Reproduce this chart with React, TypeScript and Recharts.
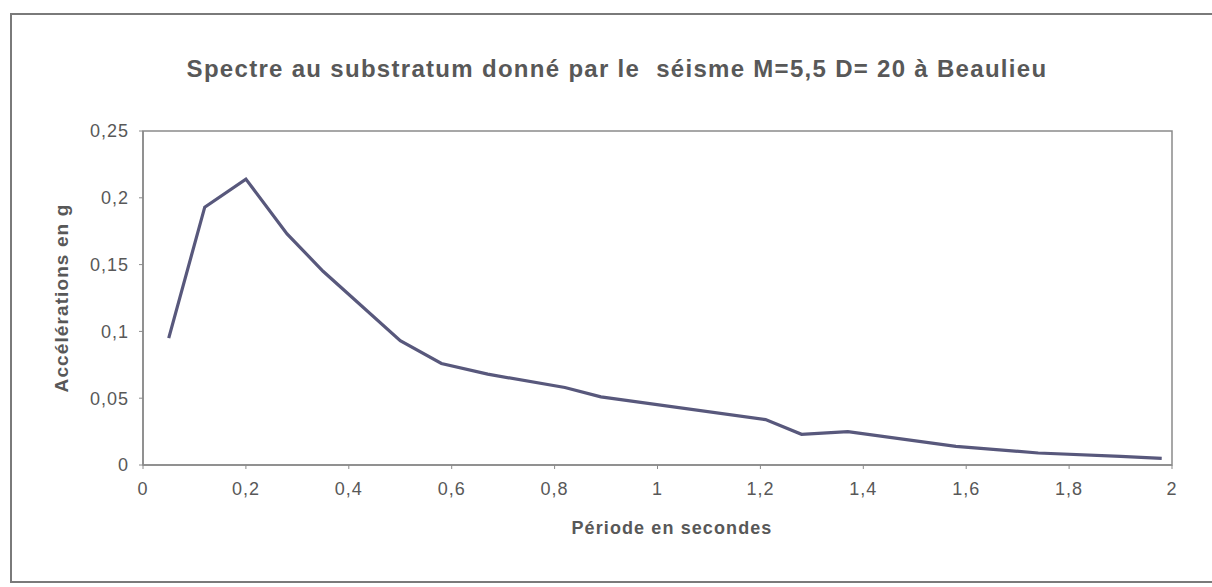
import React from 'react';
import { LineChart, Line, XAxis, YAxis, ReferenceArea } from 'recharts';

const periods = [0.05, 0.12, 0.2, 0.28, 0.35, 0.5, 0.58, 0.67, 0.82, 0.89, 1.21, 1.28, 1.37, 1.58, 1.74, 1.9, 1.98];
const accels = [0.095, 0.193, 0.214, 0.173, 0.145, 0.093, 0.076, 0.068, 0.058, 0.051, 0.034, 0.023, 0.025, 0.014, 0.009, 0.0065, 0.005];

const xTicks = [0, 0.2, 0.4, 0.6, 0.8, 1, 1.2, 1.4, 1.6, 1.8, 2];
const yTicks = [0, 0.05, 0.1, 0.15, 0.2, 0.25];

const data = periods.map((p, i) => ({ periode: p, acc: accels[i] }));

const FONT = '"Liberation Sans", Arial, sans-serif';
const TEXT = '#585858';
const AXIS = '#8a8a8a';

const fmt = (v: number) => String(v).replace('.', ',');

export default function App() {
  return (
    <div style={{ position: 'absolute', left: 0, top: 0, width: 1212, height: 587, overflow: 'hidden', background: '#fff', fontFamily: FONT }}>
      <div style={{ position: 'absolute', left: 10, top: 13, width: 1260, height: 570, border: '2px solid #7a7a7a', boxSizing: 'border-box' }} />
      <div style={{ position: 'absolute', left: 0, width: 1234, top: 55, textAlign: 'center', fontSize: 24, letterSpacing: 1.3, fontWeight: 'bold', color: TEXT, whiteSpace: 'nowrap' }}>
        Spectre au substratum donné par le&nbsp; séisme M=5,5 D= 20 à Beaulieu
      </div>
      <div style={{ position: 'absolute', left: 62, top: 298, transform: 'translate(-50%, -50%) rotate(-90deg)', whiteSpace: 'nowrap', fontSize: 19, letterSpacing: 1.1, fontWeight: 'bold', color: TEXT }}>
        Accélérations en g
      </div>
      <div style={{ position: 'absolute', left: 0, width: 1344, top: 518, textAlign: 'center', fontSize: 18, letterSpacing: 1.1, fontWeight: 'bold', color: TEXT, whiteSpace: 'nowrap' }}>
        Période en secondes
      </div>
      <LineChart width={1212} height={587} data={data} margin={{ top: 131, right: 40, bottom: 82, left: 83 }} style={{ position: 'absolute', left: 0, top: 0 }}>
        <XAxis
          dataKey="periode"
          type="number"
          domain={[0, 2]}
          ticks={xTicks}
          tickFormatter={fmt}
          height={40}
          axisLine={{ stroke: AXIS, strokeWidth: 1.5 }}
          tickLine={{ stroke: AXIS }}
          tickSize={4}
          tickMargin={13}
          tick={{ fill: TEXT, fontSize: 18, letterSpacing: 1, fontFamily: FONT }}
          interval={0}
        />
        <YAxis
          type="number"
          domain={[0, 0.25]}
          ticks={yTicks}
          tickFormatter={fmt}
          width={60}
          axisLine={{ stroke: AXIS, strokeWidth: 1.5 }}
          tickLine={{ stroke: AXIS }}
          tickSize={4}
          tickMargin={10}
          tick={{ fill: TEXT, fontSize: 18, letterSpacing: 1, fontFamily: FONT }}
          interval={0}
        />
        <ReferenceArea x1={0} x2={2} y1={0} y2={0.25} fill="none" stroke={AXIS} strokeWidth={1.5} />
        <Line
          type="linear"
          dataKey="acc"
          stroke="#58587c"
          strokeWidth={3.2}
          dot={false}
          isAnimationActive={false}
        />
      </LineChart>
    </div>
  );
}
